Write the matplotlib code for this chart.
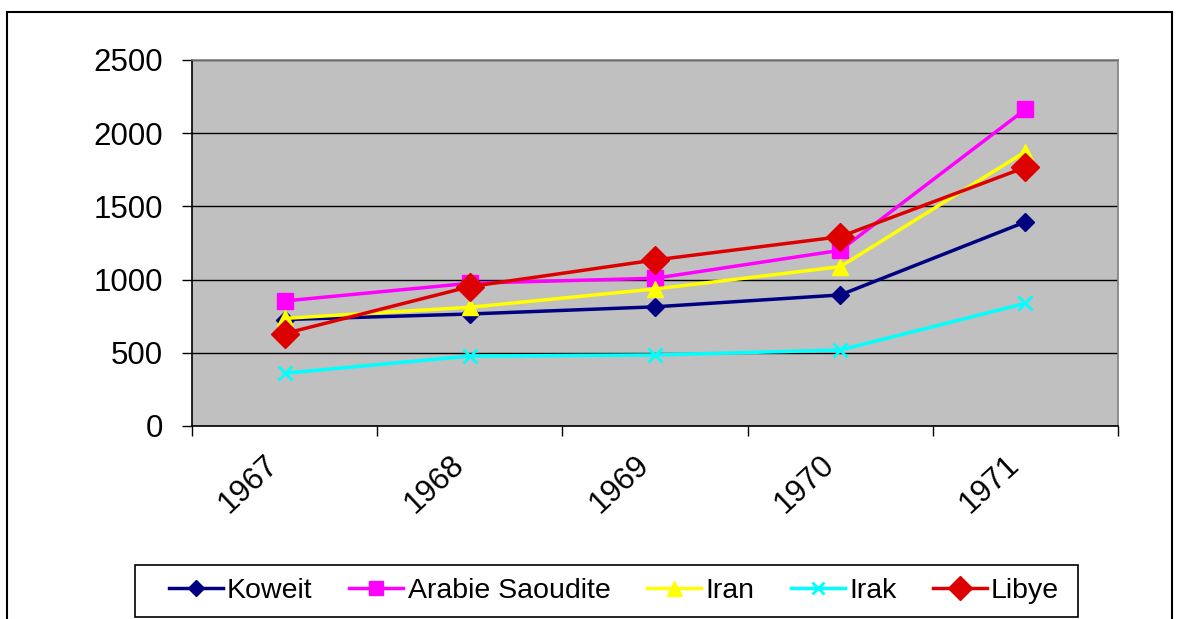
import matplotlib
matplotlib.use("Agg")
import matplotlib.pyplot as plt
from matplotlib.patches import Rectangle

plt.rcParams['font.family'] = ['Liberation Sans', 'DejaVu Sans']

years = ["1967", "1968", "1969", "1970", "1971"]
koweit = [727, 765, 814, 895, 1394]
arabie = [854, 975, 1009, 1200, 2163]
iran = [735, 811, 936, 1088, 1874]
irak = [360, 478, 485, 519, 838]
libye = [631, 952, 1134, 1293, 1767]

series = [
    ("Koweit", koweit, "#000080", "D", 9.5, 1),
    ("Arabie Saoudite", arabie, "#FF00FF", "s", 11, 1),
    ("Iran", iran, "#FFFF00", "^", 12, 1),
    ("Irak", irak, "#00FFFF", "x", 10, 2),
    ("Libye", libye, "#DD0000", "D", 14, 1),
]

W, H = 1182, 619
fig = plt.figure(figsize=(W / 100, H / 100), dpi=100)
ax = fig.add_axes([0.1624, 0.3118, 0.7835, 0.5913])
ax.set_facecolor("#C0C0C0")

x = list(range(len(years)))
for name, vals, col, mk, ms, mew in series:
    ax.plot(x, vals, color=col, lw=2.5, marker=mk, ms=ms,
            mfc=col, mec=col, mew=mew if mk == "x" else 1,
            label=name, zorder=3)

ax.set_xlim(-0.5, len(years) - 0.5)
ax.set_ylim(0, 2500)
ax.set_yticks(range(0, 2501, 500))
ax.yaxis.grid(True, color="#000000", lw=1.0, zorder=1)
ax.set_axisbelow(True)

# Category boundaries carry the tick marks; labels sit at the centres
ax.set_xticks([i - 0.5 for i in range(len(years) + 1)])
ax.set_xticklabels([])
ax.set_xticks(x, minor=True)
ax.set_xticklabels(years, minor=True, rotation=43, ha="right", va="top",
                   fontsize=22.5)
ax.tick_params(axis="x", which="minor", length=0, pad=17)
ax.tick_params(axis="x", which="major", length=7, width=1, direction="out")
ax.tick_params(axis="y", length=7, width=1, direction="out", pad=14,
               labelsize=22.5)

for side in ("top", "right"):
    ax.spines[side].set_color("#808080")
    ax.spines[side].set_linewidth(1.2)
for side in ("left", "bottom"):
    ax.spines[side].set_color("#000000")
    ax.spines[side].set_linewidth(1.2)

# Legend entries in one row, inside a plain box
leg = fig.legend(loc="center", bbox_to_anchor=(614 / W, 1 - 591 / H), ncol=5,
                 fontsize=20.5, frameon=False,
                 handlelength=1.9, handletextpad=0.15, columnspacing=1.28,
                 borderpad=0.0, markerscale=0.9)
fig.add_artist(Rectangle((135 / W, 1 - 617 / H), (1078 - 135) / W, 52 / H,
                         transform=fig.transFigure, fill=False,
                         edgecolor="black", lw=1.2))

# Outer chart border
fig.add_artist(Rectangle((7 / W, -0.05), (1172 - 7) / W, 1.05 - 12 / H,
                         transform=fig.transFigure, fill=False,
                         edgecolor="black", lw=1.5))

fig.savefig("out.png", dpi=100)
